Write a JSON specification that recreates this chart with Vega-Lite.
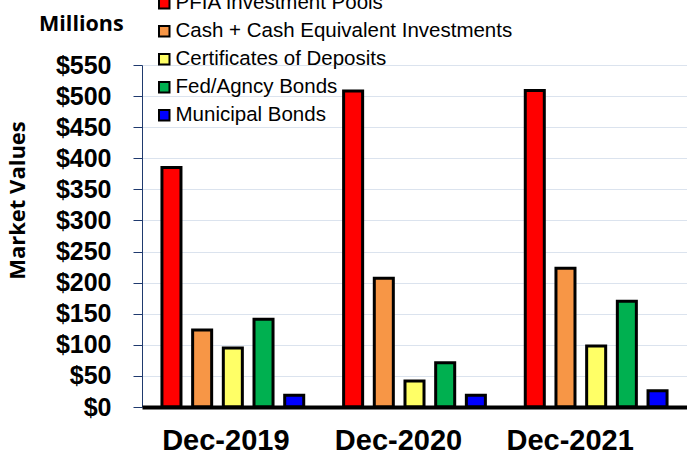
{
  "$schema": "https://vega.github.io/schema/vega-lite/v6.json",
  "width": 545,
  "height": 342,
  "autosize": {"type": "none"},
  "padding": {"left": 142, "top": 65, "right": 0, "bottom": 53},
  "background": "white",
  "title": {
    "text": "Millions",
    "anchor": "start",
    "frame": "group",
    "dx": -103,
    "dy": 42,
    "font": "Open Sans",
    "fontSize": 21.5,
    "fontWeight": "bold",
    "color": "#000000",
    "offset": 0
  },
  "data": {
    "values": [
      {"period": "Dec-2019", "type": "PFIA Investment Pools", "value": 385},
      {"period": "Dec-2019", "type": "Cash + Cash Equivalent Investments", "value": 124},
      {"period": "Dec-2019", "type": "Certificates of Deposits", "value": 95},
      {"period": "Dec-2019", "type": "Fed/Agncy Bonds", "value": 141},
      {"period": "Dec-2019", "type": "Municipal Bonds", "value": 19},
      {"period": "Dec-2020", "type": "PFIA Investment Pools", "value": 508},
      {"period": "Dec-2020", "type": "Cash + Cash Equivalent Investments", "value": 207},
      {"period": "Dec-2020", "type": "Certificates of Deposits", "value": 42},
      {"period": "Dec-2020", "type": "Fed/Agncy Bonds", "value": 71},
      {"period": "Dec-2020", "type": "Municipal Bonds", "value": 19},
      {"period": "Dec-2021", "type": "PFIA Investment Pools", "value": 509},
      {"period": "Dec-2021", "type": "Cash + Cash Equivalent Investments", "value": 223},
      {"period": "Dec-2021", "type": "Certificates of Deposits", "value": 98},
      {"period": "Dec-2021", "type": "Fed/Agncy Bonds", "value": 170},
      {"period": "Dec-2021", "type": "Municipal Bonds", "value": 26}
    ]
  },
  "mark": {"type": "bar", "stroke": "#000000", "strokeWidth": 3},
  "encoding": {
    "x": {
      "field": "period",
      "type": "nominal",
      "sort": ["Dec-2019", "Dec-2020", "Dec-2021"],
      "scale": {"paddingInner": 0, "paddingOuter": 0},
      "axis": {
        "title": null,
        "labelAngle": 0,
        "labelFont": "Liberation Sans",
        "labelFontSize": 29,
        "labelFontWeight": "bold",
        "labelColor": "#000000",
        "labelPadding": 19,
        "ticks": false,
        "domainColor": "#000000",
        "domainWidth": 4,
        "grid": false,
        "zindex": 2,
        "labelOffset": {
          "condition": [
            {"test": "datum.value == 'Dec-2019'", "value": -7},
            {"test": "datum.value == 'Dec-2020'", "value": -16}
          ],
          "value": -26
        }
      }
    },
    "xOffset": {
      "field": "type",
      "type": "nominal",
      "sort": ["PFIA Investment Pools", "Cash + Cash Equivalent Investments", "Certificates of Deposits", "Fed/Agncy Bonds", "Municipal Bonds"],
      "scale": {"paddingInner": 0.38, "paddingOuter": 0.65}
    },
    "y": {
      "field": "value",
      "type": "quantitative",
      "scale": {"domain": [0, 550], "nice": false},
      "axis": {
        "title": "Market Values",
        "titleFont": "Open Sans",
        "titleFontSize": 22,
        "titleFontWeight": "bold",
        "titleColor": "#000000",
        "titleAngle": -90,
        "titleAlign": "center",
        "titleBaseline": "middle",
        "titleX": -125,
        "titleY": 135,
        "values": [0, 50, 100, 150, 200, 250, 300, 350, 400, 450, 500, 550],
        "labelExpr": "'$' + datum.value",
        "labelFont": "Liberation Sans",
        "labelFontSize": 25,
        "labelFontWeight": "bold",
        "labelColor": "#000000",
        "labelPadding": 22,
        "tickColor": "#1f3a6e",
        "tickSize": 9,
        "domainColor": "#1f3a6e",
        "domainWidth": 1,
        "gridColor": "#dbe3ee",
        "gridWidth": 1
      }
    },
    "color": {
      "field": "type",
      "type": "nominal",
      "sort": ["PFIA Investment Pools", "Cash + Cash Equivalent Investments", "Certificates of Deposits", "Fed/Agncy Bonds", "Municipal Bonds"],
      "scale": {
        "domain": ["PFIA Investment Pools", "Cash + Cash Equivalent Investments", "Certificates of Deposits", "Fed/Agncy Bonds", "Municipal Bonds"],
        "range": ["#ff0000", "#f79646", "#ffff66", "#00b050", "#0000ff"]
      },
      "legend": {
        "title": null,
        "orient": "none",
        "legendX": 12,
        "legendY": -72,
        "padding": 0,
        "symbolType": "square",
        "symbolSize": 110,
        "symbolStrokeColor": "#000000",
        "symbolStrokeWidth": 2,
        "symbolOpacity": 1,
        "labelFont": "Liberation Sans",
        "labelFontSize": 20.5,
        "labelColor": "#000000",
        "labelOffset": 1,
        "labelLimit": 0,
        "rowPadding": 7
      }
    }
  },
  "config": {
    "view": {"stroke": null}
  }
}
